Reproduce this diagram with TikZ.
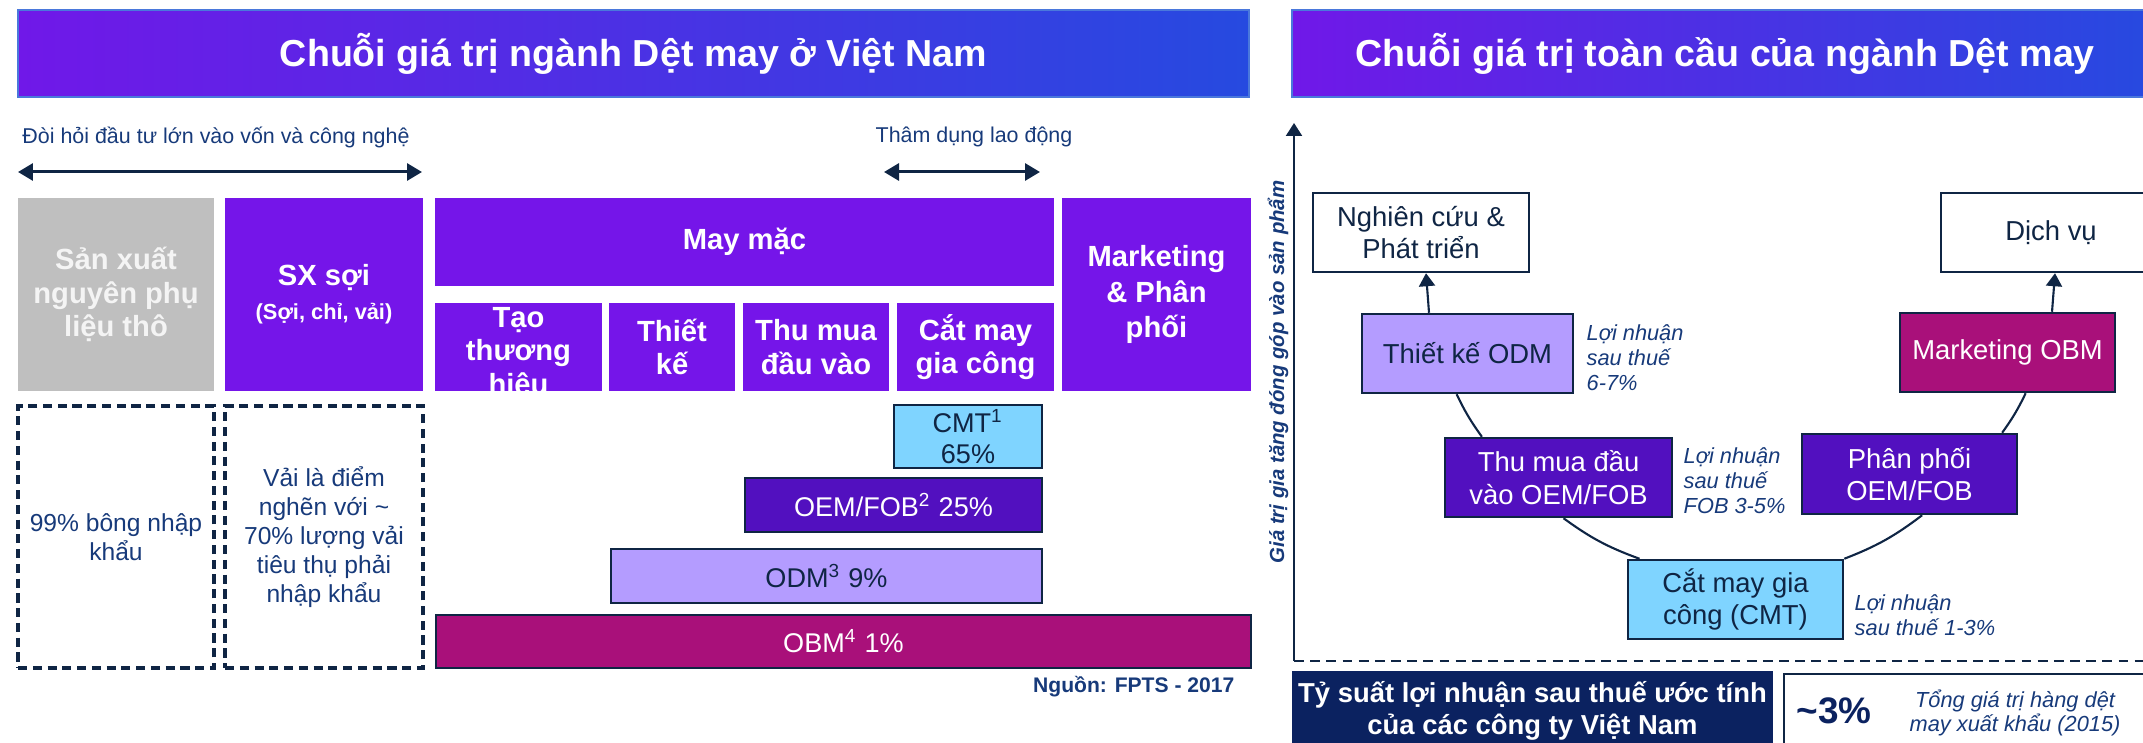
\documentclass[tikz,border=0pt]{standalone}
\usepackage{fontspec}
\setmainfont{Liberation Sans}
\usetikzlibrary{arrows.meta,calc}
\definecolor{titleL}{HTML}{7018E8}
\definecolor{titleR}{HTML}{264AE0}
\definecolor{titleedge}{HTML}{4A78DC}
\definecolor{purpleM}{HTML}{7515E9}
\definecolor{grayB}{HTML}{BFBFBF}
\definecolor{grayT}{HTML}{F4F4F4}
\definecolor{linenavy}{HTML}{0F2544}
\definecolor{textblue}{HTML}{173A7A}
\definecolor{boxnavy}{HTML}{0B2260}
\definecolor{cmtblue}{HTML}{7FD4FF}
\definecolor{oemviolet}{HTML}{5210BF}
\definecolor{odmlav}{HTML}{B49CFF}
\definecolor{obmmag}{HTML}{A9107A}
\tikzset{
  titlebar/.style={
    left color=titleL,
    right color=titleR,
    draw=titleedge,
    line width=0.6pt,
    text=white,
    minimum height=0.87cm,
    inner sep=0pt,
    font=\bfseries\fontsize{10.7}{12}\selectfont
  },
  toptext/.style={
    text=textblue,
    inner sep=0pt,
    font=\fontsize{6.1}{7.5}\selectfont
  },
  headbox/.style={
    fill=purpleM,
    text=white,
    align=center,
    inner sep=0pt,
    font=\bfseries\fontsize{8.3}{9.6}\selectfont
  },
  dashbox/.style={
    draw=linenavy,
    line width=0.9pt,
    dash pattern=on 2.6pt off 1.6pt,
    text=textblue,
    align=center,
    inner sep=0pt,
    minimum height=2.62cm,
    font=\fontsize{7}{8.2}\selectfont
  },
  bar/.style={
    draw=linenavy,
    line width=0.6pt,
    align=center,
    inner sep=0pt,
    font=\fontsize{7.7}{9}\selectfont
  },
  stage/.style={
    draw=linenavy,
    line width=0.7pt,
    align=center,
    inner sep=0pt,
    minimum width=2.15cm,
    minimum height=0.79cm,
    font=\fontsize{7.8}{9.3}\selectfont
  },
  profit/.style={
    text=textblue,
    align=left,
    anchor=west,
    inner sep=0pt,
    font=\itshape\fontsize{6.2}{7.1}\selectfont
  },
  dblarrow/.style={
    {Triangle[length=1.5mm,width=1.7mm]}-{Triangle[length=1.5mm,width=1.7mm]},
    draw=linenavy,
    line width=0.85pt
  },
  uparrow/.style={
    -{Triangle[length=1.3mm,width=1.6mm]},
    draw=linenavy,
    line width=0.6pt
  },
  smile/.style={
    draw=linenavy,
    line width=0.6pt
  }
}
\begin{document}
\begin{tikzpicture}
  \useasboundingbox (0,0) rectangle (21.43,-7.43);
  % left panel
  \node[titlebar, minimum width=12.31cm] (title1) at (6.335,-0.535) {Chuỗi giá trị ngành Dệt may ở Việt Nam};
  \node[toptext] (capital) at (2.16,-1.37) {Đòi hỏi đầu tư lớn vào vốn và công nghệ};
  \node[toptext] (labour) at (9.74,-1.37) {Thâm dụng lao động};
  \coordinate (a1) at (0.18,-1.72);
  \coordinate (a2) at (4.22,-1.72);
  \coordinate (b1) at (8.84,-1.72);
  \coordinate (b2) at (10.40,-1.72);
  \draw[dblarrow] (a1) -- (a2);
  \draw[dblarrow] (b1) -- (b2);

  \node[headbox, fill=grayB, text=grayT, minimum width=1.96cm, minimum height=1.93cm] (raw) at (1.16,-2.945) {Sản xuất\\nguyên phụ\\liệu thô};
  \node[headbox, minimum width=1.98cm, minimum height=1.93cm] (yarn) at (3.24,-2.945) {SX sợi\\{\fontsize{6.2}{7.5}\selectfont (Sợi, chỉ, vải)}};
  \node[headbox, minimum width=6.19cm, minimum height=0.88cm] (garment) at (7.445,-2.42) {May mặc};
  \foreach \cx/\w/\txt [count=\i] in {5.185/1.67/{\raisebox{-4pt}[0pt][0pt]{\begin{tabular}{@{}c@{}}Tạo\\thương\\hiệu\end{tabular}}}, 6.72/1.26/{Thiết\\kế}, 8.16/1.46/{Thu mua\\đầu vào}, 9.755/1.57/{Cắt may\\gia công}}{
    \node[headbox, minimum width=\w cm, minimum height=0.88cm] (sub\i) at (\cx,-3.47) {\txt};
  }
  \node[headbox, minimum width=1.89cm, minimum height=1.93cm, font=\bfseries\fontsize{8.3}{10}\selectfont] (distr) at (11.565,-2.945) {Marketing\\\& Phân\\phối};

  \node[dashbox, minimum width=1.96cm] (cotton) at (1.16,-5.37) {99\% bông nhập\\khẩu};
  \node[dashbox, minimum width=1.98cm] (fabric) at (3.24,-5.37) {Vải là điểm\\nghẽn với \textasciitilde\\70\% lượng vải\\tiêu thụ phải\\nhập khẩu};

  \node[bar, fill=cmtblue, text=linenavy, minimum width=1.48cm, minimum height=0.63cm] (cmt) at (9.68,-4.365) {CMT\textsuperscript{1}\\65\%};
  \node[bar, fill=oemviolet, text=white, minimum width=2.97cm, minimum height=0.54cm] (oem) at (8.935,-5.05) {OEM/FOB\textsuperscript{2} 25\%};
  \node[bar, fill=odmlav, text=linenavy, minimum width=4.31cm, minimum height=0.54cm] (odm) at (8.265,-5.76) {ODM\textsuperscript{3} 9\%};
  \node[bar, fill=obmmag, text=white, minimum width=8.15cm, minimum height=0.53cm] (obm) at (8.435,-6.415) {OBM\textsuperscript{4} 1\%};
  \node[anchor=east, inner sep=0pt, text=textblue, font=\bfseries\fontsize{6}{7}\selectfont] (src) at (12.35,-6.87) {Nguồn: FPTS - 2017};

  % right panel
  \node[titlebar, minimum width=8.66cm] (title2) at (17.25,-0.535) {Chuỗi giá trị toàn cầu của ngành Dệt may};
  \coordinate (o) at (12.94,-6.61);
  \coordinate (ytop) at (12.94,-1.23);
  \coordinate (xend) at (21.6,-6.61);
  \draw[uparrow] (o) -- (ytop);
  \draw[linenavy, line width=0.7pt, dash pattern=on 2.8pt off 1.8pt] (o) -- (xend);
  \node[rotate=90, inner sep=0pt, text=textblue, font=\bfseries\itshape\fontsize{5.8}{7}\selectfont] (ylab) at (12.78,-3.72) {Giá trị gia tăng đóng góp vào sản phẩm};

  \node[stage, fill=white, text=linenavy, minimum width=2.16cm] (rnd) at (14.21,-2.325) {Nghiên cứu \&\\Phát triển};
  \node[stage, fill=white, text=linenavy, minimum width=2.2cm] (service) at (20.51,-2.325) {Dịch vụ};
  \node[stage, fill=odmlav, text=linenavy, minimum width=2.11cm] (design) at (14.675,-3.535) {Thiết kế ODM};
  \node[stage, fill=obmmag, text=white] (brand) at (20.075,-3.525) {Marketing OBM};
  \node[stage, fill=oemviolet, text=white, minimum width=2.27cm] (sourcing) at (15.585,-4.775) {Thu mua đầu\\vào OEM/FOB};
  \node[stage, fill=oemviolet, text=white, minimum height=0.8cm] (distrib) at (19.095,-4.74) {Phân phối\\OEM/FOB};
  \node[stage, fill=cmtblue, text=linenavy] (sewing) at (17.355,-5.995) {Cắt may gia\\công (CMT)};

  \draw[uparrow] ($(design.north)+(-0.385,0)$) -- ($(rnd.south)+(0.05,0)$);
  \draw[uparrow] ($(brand.north)+(0.445,0)$) -- ($(service.south)+(0.04,0)$);
  \draw[smile] (design.255) to[bend right=5] (sourcing.152);
  \draw[smile] (sourcing.277) to[bend right=8] (sewing.157);
  \draw[smile] (sewing.north east) to[bend right=8] (distrib.287);
  \draw[smile] (distrib.24) to[bend right=5] (brand.294);

  \node[profit] (p1) at (15.86,-3.58) {Lợi nhuận\\sau thuế\\6-7\%};
  \node[profit] (p2) at (16.83,-4.81) {Lợi nhuận\\sau thuế\\FOB 3-5\%};
  \node[profit] (p3) at (18.54,-6.155) {Lợi nhuận\\sau thuế 1-3\%};

  \node[fill=boxnavy, text=white, align=center, inner sep=0pt, minimum width=4.81cm, minimum height=0.8cm, font=\bfseries\fontsize{7.8}{9.1}\selectfont] (margin) at (15.325,-7.11) {Tỷ suất lợi nhuận sau thuế ước tính\\của các công ty Việt Nam};
  \node[draw=linenavy, line width=0.6pt, minimum width=3.76cm, minimum height=0.86cm] (export) at (19.72,-7.17) {};
  \node[inner sep=0pt, text=boxnavy, font=\bfseries\fontsize{10.5}{12}\selectfont] (pct) at (18.34,-7.11) {\textasciitilde3\%};
  \node[profit, anchor=center, align=center, font=\itshape\fontsize{6.2}{7}\selectfont] (exportcap) at (20.15,-7.13) {Tổng giá trị hàng dệt\\may xuất khẩu (2015)};
\end{tikzpicture}
\end{document}
